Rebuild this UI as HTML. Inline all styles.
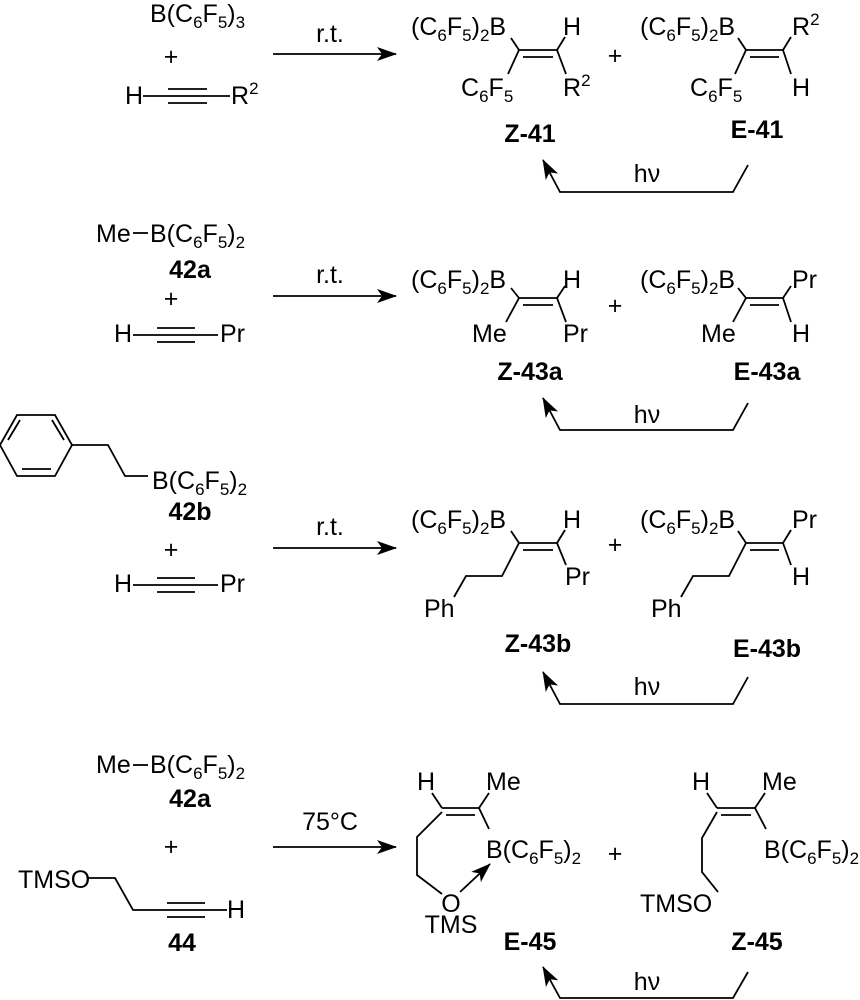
<!DOCTYPE html>
<html><head><meta charset="utf-8"><style>
html,body{margin:0;padding:0;background:#fff}
svg{display:block}
text{font-family:"Liberation Sans",Arial,sans-serif;font-size:25px;fill:#000}
.s{font-size:17px}
.b{font-weight:bold}
line,polyline,polygon,path{stroke:#000;stroke-width:1.8;fill:none}
</style></head><body>
<svg width="860" height="1000" viewBox="0 0 860 1000" xmlns="http://www.w3.org/2000/svg">
<defs>
<marker id="ah" markerUnits="userSpaceOnUse" markerWidth="22" markerHeight="16" refX="19" refY="7" orient="auto">
<path d="M0,0 L20,7 L0,14 L5,7 z" style="fill:#000;stroke:none"/>
</marker>
</defs>

<!-- ============ SECTION 1 ============ -->
<text x="150" y="22">B(C<tspan dy="6" class="s">6</tspan><tspan dy="-6">F</tspan><tspan dy="6" class="s">5</tspan><tspan dy="-6">)</tspan><tspan dy="6" class="s">3</tspan></text>
<text x="171" y="65" text-anchor="middle">+</text>
<text x="125" y="104">H</text>
<line x1="143" y1="96" x2="230" y2="96"/>
<line x1="168" y1="89" x2="207" y2="89"/>
<line x1="168" y1="103" x2="207" y2="103"/>
<text x="231" y="104">R<tspan dy="-10" class="s">2</tspan></text>
<line x1="273" y1="54" x2="396" y2="54" marker-end="url(#ah)"/>
<text x="330" y="42" text-anchor="middle">r.t.</text>

<!-- Z-41 -->
<text x="411" y="35">(C<tspan dy="6" class="s">6</tspan><tspan dy="-6">F</tspan><tspan dy="6" class="s">5</tspan><tspan dy="-6">)</tspan><tspan dy="6" class="s">2</tspan><tspan dy="-6">B</tspan></text>
<line x1="511" y1="38" x2="519" y2="50"/>
<line x1="519" y1="50" x2="557" y2="50"/>
<line x1="523" y1="57" x2="553" y2="57"/>
<line x1="557" y1="50" x2="565" y2="37"/>
<text x="563" y="35">H</text>
<line x1="519" y1="50" x2="508" y2="74"/>
<text x="461" y="96">C<tspan dy="6" class="s">6</tspan><tspan dy="-6">F</tspan><tspan dy="6" class="s">5</tspan></text>
<line x1="557" y1="50" x2="566" y2="74"/>
<text x="563" y="96">R<tspan dy="-10" class="s">2</tspan></text>
<text x="615" y="64" text-anchor="middle">+</text>
<!-- E-41 -->
<text x="640" y="35">(C<tspan dy="6" class="s">6</tspan><tspan dy="-6">F</tspan><tspan dy="6" class="s">5</tspan><tspan dy="-6">)</tspan><tspan dy="6" class="s">2</tspan><tspan dy="-6">B</tspan></text>
<line x1="738" y1="38" x2="746" y2="50"/>
<line x1="746" y1="50" x2="783" y2="50"/>
<line x1="750" y1="57" x2="779" y2="57"/>
<line x1="783" y1="50" x2="791" y2="37"/>
<text x="792" y="35">R<tspan dy="-10" class="s">2</tspan></text>
<line x1="783" y1="50" x2="791" y2="74"/>
<text x="792" y="96">H</text>
<line x1="746" y1="50" x2="735" y2="74"/>
<text x="690" y="96">C<tspan dy="6" class="s">6</tspan><tspan dy="-6">F</tspan><tspan dy="6" class="s">5</tspan></text>
<text x="530" y="142" text-anchor="middle" class="b">Z-41</text>
<text x="757" y="138" text-anchor="middle" class="b">E-41</text>
<text x="647" y="182" text-anchor="middle">hν</text>
<polyline points="748,165 733,192 560,192 543,160" marker-end="url(#ah)"/>

<!-- ============ SECTION 2 ============ -->
<text x="96" y="242">Me</text>
<line x1="133" y1="233" x2="148" y2="233"/>
<text x="150" y="242">B(C<tspan dy="6" class="s">6</tspan><tspan dy="-6">F</tspan><tspan dy="6" class="s">5</tspan><tspan dy="-6">)</tspan><tspan dy="6" class="s">2</tspan></text>
<text x="190" y="278" text-anchor="middle" class="b">42a</text>
<text x="171" y="307" text-anchor="middle">+</text>
<text x="114" y="342">H</text>
<line x1="133" y1="335" x2="218" y2="335"/>
<line x1="157" y1="328" x2="195" y2="328"/>
<line x1="157" y1="342" x2="195" y2="342"/>
<text x="220" y="342">Pr</text>
<line x1="273" y1="296" x2="396" y2="296" marker-end="url(#ah)"/>
<text x="330" y="283" text-anchor="middle">r.t.</text>

<g transform="translate(0,248)">
<text x="411" y="40">(C<tspan dy="6" class="s">6</tspan><tspan dy="-6">F</tspan><tspan dy="6" class="s">5</tspan><tspan dy="-6">)</tspan><tspan dy="6" class="s">2</tspan><tspan dy="-6">B</tspan></text>
<line x1="511" y1="40" x2="519" y2="50"/>
<line x1="519" y1="50" x2="557" y2="50"/>
<line x1="523" y1="57" x2="553" y2="57"/>
<line x1="557" y1="50" x2="565" y2="38"/>
<text x="563" y="40">H</text>
<line x1="519" y1="50" x2="506" y2="74"/>
<text x="472" y="94">Me</text>
<line x1="557" y1="50" x2="566" y2="74"/>
<text x="563" y="94">Pr</text>
<text x="615" y="66" text-anchor="middle">+</text>
<text x="640" y="40">(C<tspan dy="6" class="s">6</tspan><tspan dy="-6">F</tspan><tspan dy="6" class="s">5</tspan><tspan dy="-6">)</tspan><tspan dy="6" class="s">2</tspan><tspan dy="-6">B</tspan></text>
<line x1="738" y1="40" x2="746" y2="50"/>
<line x1="746" y1="50" x2="783" y2="50"/>
<line x1="750" y1="57" x2="779" y2="57"/>
<line x1="783" y1="50" x2="791" y2="38"/>
<text x="792" y="40">Pr</text>
<line x1="783" y1="50" x2="791" y2="74"/>
<text x="792" y="94">H</text>
<line x1="746" y1="50" x2="733" y2="74"/>
<text x="701" y="94">Me</text>
</g>
<text x="530" y="380" text-anchor="middle" class="b">Z-43a</text>
<text x="767" y="380" text-anchor="middle" class="b">E-43a</text>
<text x="647" y="423" text-anchor="middle">hν</text>
<polyline points="748,403 733,430 560,430 543,398" marker-end="url(#ah)"/>

<!-- ============ SECTION 3 ============ -->
<polygon points="17,415 55,415 72,445 55,476 17,476 0,445"/>
<line x1="22" y1="469" x2="51" y2="469"/>
<line x1="64" y1="440" x2="52" y2="420"/>
<line x1="8" y1="440" x2="20" y2="420"/>
<polyline points="72,445 108,445 125,476 148,476"/>
<text x="152" y="489">B(C<tspan dy="6" class="s">6</tspan><tspan dy="-6">F</tspan><tspan dy="6" class="s">5</tspan><tspan dy="-6">)</tspan><tspan dy="6" class="s">2</tspan></text>
<text x="190" y="520" text-anchor="middle" class="b">42b</text>
<text x="171" y="558" text-anchor="middle">+</text>
<text x="114" y="592">H</text>
<line x1="133" y1="585" x2="218" y2="585"/>
<line x1="157" y1="578" x2="195" y2="578"/>
<line x1="157" y1="592" x2="195" y2="592"/>
<text x="220" y="592">Pr</text>
<line x1="273" y1="548" x2="396" y2="548" marker-end="url(#ah)"/>
<text x="330" y="535" text-anchor="middle">r.t.</text>

<g transform="translate(0,493)">
<text x="411" y="35">(C<tspan dy="6" class="s">6</tspan><tspan dy="-6">F</tspan><tspan dy="6" class="s">5</tspan><tspan dy="-6">)</tspan><tspan dy="6" class="s">2</tspan><tspan dy="-6">B</tspan></text>
<line x1="511" y1="38" x2="519" y2="50"/>
<line x1="519" y1="50" x2="557" y2="50"/>
<line x1="523" y1="57" x2="553" y2="57"/>
<line x1="557" y1="50" x2="565" y2="37"/>
<text x="563" y="35">H</text>
<polyline points="519,50 502,83 466,83 454,104"/>
<text x="424" y="124">Ph</text>
<line x1="557" y1="50" x2="566" y2="72"/>
<text x="565" y="92">Pr</text>
<text x="615" y="60" text-anchor="middle">+</text>
<text x="640" y="35">(C<tspan dy="6" class="s">6</tspan><tspan dy="-6">F</tspan><tspan dy="6" class="s">5</tspan><tspan dy="-6">)</tspan><tspan dy="6" class="s">2</tspan><tspan dy="-6">B</tspan></text>
<line x1="738" y1="38" x2="746" y2="50"/>
<line x1="746" y1="50" x2="783" y2="50"/>
<line x1="750" y1="57" x2="779" y2="57"/>
<line x1="783" y1="50" x2="791" y2="37"/>
<text x="792" y="35">Pr</text>
<line x1="783" y1="50" x2="791" y2="72"/>
<text x="792" y="92">H</text>
<polyline points="746,50 729,83 693,83 681,104"/>
<text x="651" y="124">Ph</text>
</g>
<text x="538" y="652" text-anchor="middle" class="b">Z-43b</text>
<text x="767" y="657" text-anchor="middle" class="b">E-43b</text>
<text x="647" y="695" text-anchor="middle">hν</text>
<polyline points="748,677 733,704 560,704 543,672" marker-end="url(#ah)"/>

<!-- ============ SECTION 4 ============ -->
<text x="96" y="773">Me</text>
<line x1="133" y1="765" x2="148" y2="765"/>
<text x="150" y="773">B(C<tspan dy="6" class="s">6</tspan><tspan dy="-6">F</tspan><tspan dy="6" class="s">5</tspan><tspan dy="-6">)</tspan><tspan dy="6" class="s">2</tspan></text>
<text x="190" y="807" text-anchor="middle" class="b">42a</text>
<text x="171" y="855" text-anchor="middle">+</text>
<text x="18" y="888">TMSO</text>
<polyline points="88,878 115,878 133,910 227,910"/>
<line x1="167" y1="903" x2="205" y2="903"/>
<line x1="167" y1="917" x2="205" y2="917"/>
<text x="227" y="918">H</text>
<text x="182" y="951" text-anchor="middle" class="b">44</text>
<line x1="273" y1="847" x2="396" y2="847" marker-end="url(#ah)"/>
<text x="330" y="830" text-anchor="middle">75°C</text>

<!-- E-45 -->
<text x="417" y="790">H</text>
<text x="486" y="790">Me</text>
<line x1="442" y1="808" x2="432" y2="793"/>
<line x1="479" y1="808" x2="489" y2="793"/>
<line x1="442" y1="808" x2="479" y2="808"/>
<line x1="446" y1="815" x2="475" y2="815"/>
<line x1="479" y1="808" x2="489" y2="829"/>
<text x="486" y="858">B(C<tspan dy="6" class="s">6</tspan><tspan dy="-6">F</tspan><tspan dy="6" class="s">5</tspan><tspan dy="-6">)</tspan><tspan dy="6" class="s">2</tspan></text>
<polyline points="442,812 417,837 417,875 442,894"/>
<text x="451" y="912" text-anchor="middle">O</text>
<text x="451" y="933" text-anchor="middle">TMS</text>
<line x1="460" y1="892" x2="490" y2="864" marker-end="url(#ah)"/>
<text x="615" y="862" text-anchor="middle">+</text>
<!-- Z-45 -->
<text x="692" y="790">H</text>
<text x="762" y="790">Me</text>
<line x1="717" y1="808" x2="707" y2="793"/>
<line x1="755" y1="808" x2="765" y2="793"/>
<line x1="717" y1="808" x2="755" y2="808"/>
<line x1="721" y1="815" x2="751" y2="815"/>
<line x1="755" y1="808" x2="766" y2="829"/>
<text x="764" y="858">B(C<tspan dy="6" class="s">6</tspan><tspan dy="-6">F</tspan><tspan dy="6" class="s">5</tspan><tspan dy="-6">)</tspan><tspan dy="6" class="s">2</tspan></text>
<polyline points="717,812 702,838 702,872 718,892"/>
<text x="640" y="912">TMSO</text>
<text x="530" y="950" text-anchor="middle" class="b">E-45</text>
<text x="757" y="950" text-anchor="middle" class="b">Z-45</text>
<text x="647" y="990" text-anchor="middle">hν</text>
<polyline points="748,972 733,998 560,998 543,967" marker-end="url(#ah)"/>
</svg>
</body></html>
